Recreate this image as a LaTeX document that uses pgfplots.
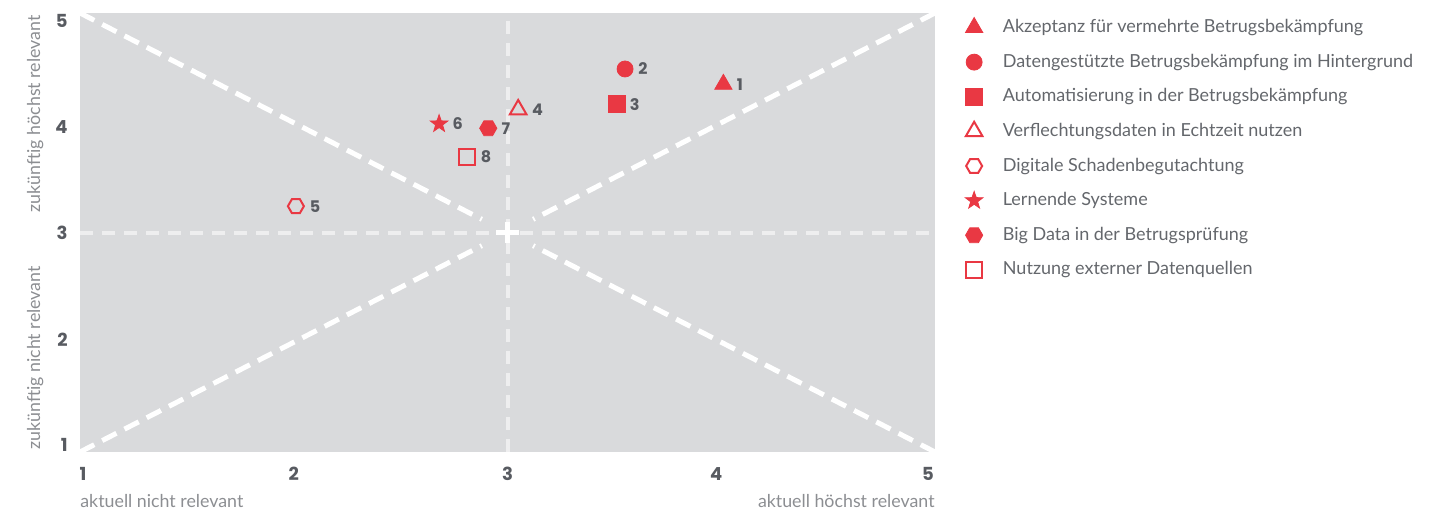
\documentclass[border=0pt]{standalone}
\usepackage{pgfplots}
\pgfplotsset{compat=1.18}
\usepackage{fontspec}
\setmainfont{Lato}
\newfontfamily\numfont{Poppins}

\definecolor{panel}{RGB}{217,218,220}
\definecolor{mred}{RGB}{233,56,67}
\definecolor{numgray}{RGB}{88,91,97}
\definecolor{legtext}{RGB}{100,103,108}
\definecolor{labgray}{RGB}{140,142,146}
\definecolor{gridline}{RGB}{238,238,239}

% hexagon marks with pointed left/right corners
\pgfdeclareplotmark{hexagon}{%
  \pgfpathmoveto{\pgfpointpolar{0}{\pgfplotmarksize}}%
  \pgfpathlineto{\pgfpointpolar{60}{\pgfplotmarksize}}%
  \pgfpathlineto{\pgfpointpolar{120}{\pgfplotmarksize}}%
  \pgfpathlineto{\pgfpointpolar{180}{\pgfplotmarksize}}%
  \pgfpathlineto{\pgfpointpolar{240}{\pgfplotmarksize}}%
  \pgfpathlineto{\pgfpointpolar{300}{\pgfplotmarksize}}%
  \pgfpathclose
  \pgfusepathqstroke}
\pgfdeclareplotmark{hexagon*}{%
  \pgfpathmoveto{\pgfpointpolar{0}{\pgfplotmarksize}}%
  \pgfpathlineto{\pgfpointpolar{60}{\pgfplotmarksize}}%
  \pgfpathlineto{\pgfpointpolar{120}{\pgfplotmarksize}}%
  \pgfpathlineto{\pgfpointpolar{180}{\pgfplotmarksize}}%
  \pgfpathlineto{\pgfpointpolar{240}{\pgfplotmarksize}}%
  \pgfpathlineto{\pgfpointpolar{300}{\pgfplotmarksize}}%
  \pgfpathclose
  \pgfusepathqfillstroke}
% solid five-pointed star
\pgfdeclareplotmark{fstar}{%
  \pgfpathmoveto{\pgfpointpolar{90}{\pgfplotmarksize}}%
  \pgfpathlineto{\pgfpointpolar{126}{0.4\pgfplotmarksize}}%
  \pgfpathlineto{\pgfpointpolar{162}{\pgfplotmarksize}}%
  \pgfpathlineto{\pgfpointpolar{198}{0.4\pgfplotmarksize}}%
  \pgfpathlineto{\pgfpointpolar{234}{\pgfplotmarksize}}%
  \pgfpathlineto{\pgfpointpolar{270}{0.4\pgfplotmarksize}}%
  \pgfpathlineto{\pgfpointpolar{306}{\pgfplotmarksize}}%
  \pgfpathlineto{\pgfpointpolar{342}{0.4\pgfplotmarksize}}%
  \pgfpathlineto{\pgfpointpolar{18}{\pgfplotmarksize}}%
  \pgfpathlineto{\pgfpointpolar{54}{0.4\pgfplotmarksize}}%
  \pgfpathclose
  \pgfusepathqfillstroke}

\newcommand\tickfont{\numfont\bfseries\fontsize{9bp}{10bp}\selectfont}
\newcommand\idfont{\numfont\bfseries\fontsize{8bp}{9bp}\selectfont}
\newcommand\labfont{\fontsize{8.9bp}{10bp}\selectfont}

\pgfplotsset{
  filledmark/.style={only marks, mark=#1, draw=mred, fill=mred,
    mark options={draw=mred, fill=mred, line width=0.4bp}},
  openmark/.style={only marks, mark=#1, draw=mred, fill=none,
    mark options={draw=mred, fill=none, line width=1bp}},
  idlabel/.style={nodes near coords, point meta=explicit symbolic,
    nodes near coords style={anchor=west, inner sep=0pt, xshift=6.5bp,
      font=\idfont, text=numgray}},
}

\begin{document}
\begin{tikzpicture}
\useasboundingbox (0,0) rectangle (721bp,257.5bp);
\begin{axis}[
  at={(40bp,31.5bp)}, anchor=south west,
  scale only axis, width=427.5bp, height=219.5bp,
  xmin=1, xmax=5, ymin=1, ymax=5,
  clip=false,
  axis background/.style={fill=panel},
  axis line style={draw=none},
  major tick length=0pt,
  xtick={1.014,2,3,3.977,4.967}, xticklabels={1,2,3,4,5},
  ytick={1.064,2.025,3,3.957,4.927}, yticklabels={1,2,3,4,5},
  xticklabel style={font=\tickfont, text=numgray, anchor=center, inner sep=0pt, yshift=-11bp},
  yticklabel style={font=\tickfont, text=numgray, anchor=east, inner sep=0pt, xshift=-6bp},
  legend style={draw=none, fill=none, at={(1,1)}, anchor=north west,
    xshift=15bp, yshift=-1bp, inner sep=0pt,
    font=\fontsize{9bp}{11bp}\selectfont, text=legtext,
    row sep=5.2bp,
    /tikz/every odd column/.append style={column sep=8bp}},
  legend cell align=left,
  legend image code/.code={\draw[#1] plot coordinates {(6bp,0bp)};},
]
% quadrant guides
\addplot[forget plot, gridline, line width=2bp, dash pattern=on 6.5bp off 4.5bp]
  coordinates {(1,3) (5,3)};
\addplot[forget plot, gridline, line width=2bp, dash pattern=on 6.5bp off 4.5bp]
  coordinates {(3,1) (3,5)};
% diagonals, kept clear of the centre
\addplot[forget plot, white, line width=2.5bp, dash pattern=on 8bp off 4.5bp]
  coordinates {(1,5) (2.88,3.12)};
\addplot[forget plot, white, line width=2.5bp, dash pattern=on 8bp off 4.5bp]
  coordinates {(5,1) (3.12,2.88)};
\addplot[forget plot, white, line width=2.5bp, dash pattern=on 8bp off 4.5bp]
  coordinates {(1,1) (2.88,2.88)};
\addplot[forget plot, white, line width=2.5bp, dash pattern=on 8bp off 4.5bp]
  coordinates {(5,5) (3.12,3.12)};
% centre cross
\addplot[forget plot, white, line width=2.5bp] coordinates {(2.948,3) (3.052,3)};
\addplot[forget plot, white, line width=2.5bp] coordinates {(3,2.9) (3,3.1)};

\addplot[filledmark=triangle*, mark size=5bp, idlabel] coordinates {(4.01,4.35) [1]};
\addlegendentry{Akzeptanz für vermehrte Betrugsbekämpfung}
\addplot[filledmark=*, mark size=4bp, idlabel] coordinates {(3.55,4.49) [2]};
\addlegendentry{Datengestützte Betrugsbekämpfung im Hintergrund}
\addplot[filledmark=square*, mark size=4.2bp, idlabel] coordinates {(3.51,4.17) [3]};
\addlegendentry{Automatisierung in der Betrugsbekämpfung}
\addplot[openmark=triangle, mark size=4.8bp, idlabel] coordinates {(3.05,4.12) [4]};
\addlegendentry{Verflechtungsdaten in Echtzeit nutzen}
\addplot[openmark=hexagon, mark size=4bp, idlabel] coordinates {(2.01,3.24) [5]};
\addlegendentry{Digitale Schadenbegutachtung}
\addplot[filledmark=fstar, mark size=4.6bp, idlabel] coordinates {(2.68,3.99) [6]};
\addlegendentry{Lernende Systeme}
\addplot[filledmark=hexagon*, mark size=4.3bp, idlabel] coordinates {(2.91,3.95) [7]};
\addlegendentry{Big Data in der Betrugsprüfung}
\addplot[openmark=square, mark size=4bp, idlabel] coordinates {(2.81,3.69) [8]};
\addlegendentry{Nutzung externer Datenquellen}

% axis captions
\node[anchor=base west, font=\labfont, text=labgray, inner sep=0pt]
  at ([yshift=-27.5bp]rel axis cs:0,0) {aktuell nicht relevant};
\node[anchor=base east, font=\labfont, text=labgray, inner sep=0pt]
  at ([yshift=-27.5bp]rel axis cs:1,0) {aktuell höchst relevant};
\node[rotate=90, anchor=base east, font=\labfont, text=labgray, inner sep=0pt]
  at ([xshift=-20bp,yshift=-1bp]rel axis cs:0,1) {zukünftig höchst relevant};
\node[rotate=90, anchor=base west, font=\labfont, text=labgray, inner sep=0pt]
  at ([xshift=-20bp,yshift=1bp]rel axis cs:0,0) {zukünftig nicht relevant};
\end{axis}
\end{tikzpicture}
\end{document}
